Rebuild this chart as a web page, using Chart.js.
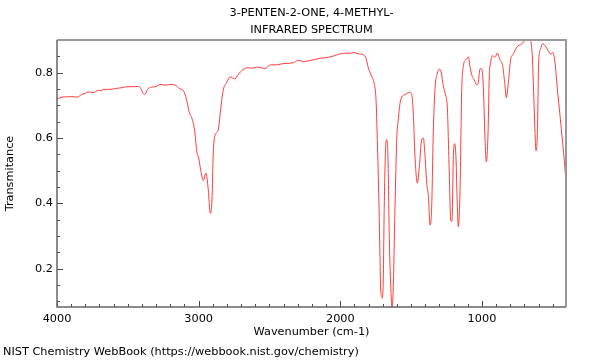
<!DOCTYPE html>
<html>
<head>
<meta charset="utf-8">
<script src="https://cdn.jsdelivr.net/npm/chart.js@4"></script>
<style>
  html, body { margin: 0; padding: 0; background: #fff; }
  #wrap { width: 600px; height: 360px; }
</style>
</head>
<body>
<div id="wrap"><canvas id="c" width="600" height="360"></canvas></div>
<script>
const titleLines = ['3-PENTEN-2-ONE, 4-METHYL-', 'INFRARED SPECTRUM'];
const xTitle = 'Wavenumber (cm-1)';
const yTitle = 'Transmitance';
const footer = 'NIST Chemistry WebBook (https://webbook.nist.gov/chemistry)';

const xMajorTicks = [4000, 3000, 2000, 1000];
const yMajorTicks = [0.2, 0.4, 0.6, 0.8];
const xRange = [407, 4000];
const yRange = [0.083, 0.9];

const wavenumbers = [
  4000, 3967, 3930, 3896, 3861, 3826, 3800, 3779, 3744, 3708, 3690, 3673, 3626, 3579, 3543, 3508,
  3473, 3426, 3409, 3391, 3379, 3360, 3332, 3308, 3266, 3238, 3190, 3155, 3132, 3113, 3096, 3080,
  3066, 3049, 3038, 3026, 3014, 3000, 2986, 2967, 2950, 2932, 2918, 2906, 2897, 2885, 2862, 2845,
  2826, 2802, 2779, 2744, 2720, 2685, 2650, 2620, 2590, 2560, 2532, 2492, 2449, 2402, 2332, 2297,
  2261, 2202, 2144, 2073, 2014, 1967, 1930, 1908, 1873, 1838, 1819, 1802, 1779, 1762, 1748, 1739,
  1727, 1720, 1715, 1708, 1704, 1697, 1690, 1680, 1673, 1664, 1654, 1642, 1635, 1626, 1614, 1602,
  1591, 1574, 1543, 1513, 1496, 1485, 1473, 1456, 1442, 1426, 1414, 1402, 1390, 1378, 1367, 1355,
  1344, 1332, 1315, 1301, 1287, 1273, 1254, 1245, 1231, 1221, 1212, 1202, 1193, 1184, 1174, 1167,
  1155, 1143, 1132, 1113, 1096, 1085, 1073, 1056, 1037, 1026, 1014, 1002, 990, 979, 969, 957,
  948, 943, 925, 908, 892, 873, 854, 840, 828, 814, 797, 779, 755, 720, 696, 673,
  656, 645, 633, 623, 619, 609, 600, 586, 572, 555, 532, 515, 501, 485, 468, 449,
  431, 414, 407
];
const transmittance = [
  0.720, 0.725, 0.726, 0.727, 0.725, 0.733, 0.737, 0.741, 0.739, 0.746, 0.745, 0.749, 0.749, 0.752, 0.754, 0.757,
  0.757, 0.758, 0.752, 0.736, 0.734, 0.749, 0.756, 0.757, 0.764, 0.762, 0.764, 0.759, 0.750, 0.748, 0.733, 0.707,
  0.678, 0.662, 0.645, 0.615, 0.559, 0.539, 0.503, 0.470, 0.493, 0.442, 0.370, 0.411, 0.554, 0.607, 0.625, 0.687,
  0.748, 0.770, 0.787, 0.781, 0.795, 0.810, 0.815, 0.814, 0.817, 0.815, 0.813, 0.824, 0.824, 0.828, 0.830, 0.838,
  0.834, 0.838, 0.844, 0.848, 0.856, 0.860, 0.859, 0.862, 0.858, 0.855, 0.845, 0.814, 0.789, 0.768, 0.717, 0.595,
  0.390, 0.237, 0.135, 0.118, 0.110, 0.166, 0.390, 0.574, 0.595, 0.544, 0.289, 0.125, 0.080, 0.146, 0.390, 0.595,
  0.656, 0.717, 0.733, 0.740, 0.733, 0.677, 0.544, 0.462, 0.513, 0.595, 0.600, 0.544, 0.462, 0.420, 0.334, 0.390,
  0.615, 0.748, 0.799, 0.811, 0.799, 0.758, 0.727, 0.697, 0.493, 0.350, 0.345, 0.544, 0.583, 0.544, 0.390, 0.329,
  0.442, 0.748, 0.819, 0.840, 0.848, 0.819, 0.794, 0.779, 0.763, 0.770, 0.812, 0.811, 0.750, 0.600, 0.527, 0.620,
  0.800, 0.821, 0.852, 0.847, 0.860, 0.840, 0.821, 0.770, 0.724, 0.770, 0.842, 0.857, 0.878, 0.888, 0.899, 0.900,
  0.895, 0.852, 0.709, 0.587, 0.561, 0.617, 0.832, 0.873, 0.889, 0.883, 0.867, 0.857, 0.862, 0.832, 0.750, 0.668,
  0.587, 0.505, 0.454
];

const points = wavenumbers.map((w, i) => ({ x: w, y: transmittance[i] }));
const FONT = 'DejaVu Sans';
const FS = 11.3;

const frameTicks = {
  id: 'frameTicks',
  afterDatasetsDraw(chart) {
    const { ctx, chartArea: a, scales: { x, y } } = chart;
    ctx.save();
    ctx.strokeStyle = '#444';
    ctx.lineWidth = 1;
    ctx.beginPath();
    for (let v = 4000; v >= xRange[0]; v -= 100) {
      const px = Math.round(x.getPixelForValue(v)) + 0.5;
      const len = (v % 1000 === 0) ? 6 : 3;
      ctx.moveTo(px, a.bottom);
      ctx.lineTo(px, a.bottom - len);
    }
    for (let k = 2; k <= 18; k++) {
      const v = k * 0.05;
      const py = Math.round(y.getPixelForValue(v)) + 0.5;
      const len = (k % 4 === 0) ? 6 : 3;
      ctx.moveTo(a.left, py);
      ctx.lineTo(a.left + len, py);
    }
    ctx.stroke();
    ctx.lineWidth = 2;
    ctx.strokeStyle = '#999';
    ctx.beginPath();
    ctx.moveTo(a.left, a.top);
    ctx.lineTo(a.right, a.top);
    ctx.lineTo(a.right, a.bottom);
    ctx.stroke();
    ctx.strokeStyle = '#666';
    ctx.lineWidth = 1.5;
    ctx.beginPath();
    ctx.moveTo(a.left, a.top);
    ctx.lineTo(a.left, a.bottom);
    ctx.lineTo(a.right, a.bottom);
    ctx.stroke();
    ctx.restore();
  }
};

new Chart(document.getElementById('c'), {
  type: 'line',
  data: {
    datasets: [{
      data: points,
      borderColor: 'rgba(255,40,40,0.9)',
      borderWidth: 1,
      pointRadius: 0,
      fill: false,
      cubicInterpolationMode: 'monotone'
    }]
  },
  options: {
    responsive: false,
    animation: false,
    devicePixelRatio: 1,
    layout: { padding: { left: 3, right: 34, top: 0, bottom: 0 } },
    plugins: {
      legend: { display: false },
      tooltip: { enabled: false },
      title: {
        display: true,
        text: titleLines,
        fullSize: false,
        color: '#000',
        font: { family: FONT, size: FS, weight: 'normal', lineHeight: 17 / FS },
        padding: { top: 5, bottom: 1 }
      },
      subtitle: {
        display: true,
        text: footer,
        position: 'bottom',
        align: 'start',
        fullSize: true,
        color: '#000',
        font: { family: FONT, size: FS, weight: 'normal', lineHeight: 1.2 },
        padding: { top: 2, bottom: 1.5 }
      }
    },
    scales: {
      x: {
        type: 'linear',
        reverse: true,
        min: xRange[0],
        max: xRange[1],
        afterBuildTicks(s) { s.ticks = xMajorTicks.map(v => ({ value: v })); },
        afterFit(s) { s.height = 35.9; },
        grid: { display: false, drawTicks: false },
        border: { display: false },
        ticks: {
          color: '#000',
          padding: 5,
          maxRotation: 0,
          font: { family: FONT, size: FS },
          callback: v => String(v)
        },
        title: {
          display: true,
          text: xTitle,
          color: '#000',
          font: { family: FONT, size: FS },
          padding: { top: 0, bottom: 4 }
        }
      },
      y: {
        type: 'linear',
        min: yRange[0],
        max: yRange[1],
        afterBuildTicks(s) { s.ticks = yMajorTicks.map(v => ({ value: v })); },
        afterFit(s) { s.width = 54; },
        grid: { display: false, drawTicks: false },
        border: { display: false },
        ticks: {
          color: '#000',
          padding: 4,
          font: { family: FONT, size: FS },
          callback: v => v.toFixed(1)
        },
        title: {
          display: true,
          text: yTitle,
          color: '#000',
          font: { family: FONT, size: FS },
          padding: { top: 0, bottom: 0 }
        }
      }
    }
  },
  plugins: [frameTicks]
});
</script>
</body>
</html>
